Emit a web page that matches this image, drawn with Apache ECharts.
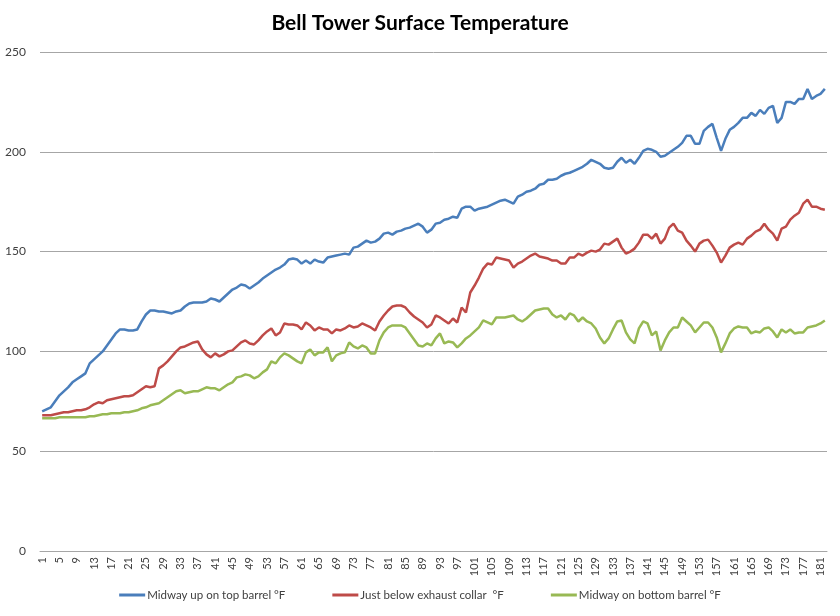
<!DOCTYPE html>
<html>
<head>
<meta charset="utf-8">
<script src="https://cdn.jsdelivr.net/npm/echarts@6/dist/echarts.min.js"></script>
<style>html,body{margin:0;padding:0;background:#fff;}#c{width:840px;height:616px;}</style>
</head>
<body>
<div id="c"></div>
<script>
const titleText = 'Bell Tower Surface Temperature';
const seriesNames = ['Midway up on top barrel °F', 'Just below exhaust collar  °F', 'Midway on bottom barrel °F'];
const categories = [];
for (let i = 1; i <= 182; i++) categories.push(String(i));
const yTicks = [0, 50, 100, 150, 200, 250];

const topBarrel = [70,71,72,75,78,80,82,84.5,86,87.5,89,94,96,98,100,103,106,109,111,111,110.5,110.5,111,115,118.5,120.5,120.5,120,120,119.5,119,120,120.5,122.5,124,124.5,124.5,124.5,125,126.5,126,125,127,129,131,132,133.5,133,131.5,133,134.5,136.5,138,139.5,141,142,143.5,146,146.5,146,144,145.5,144,146,145,144.5,147,147.5,148,148.5,149,148.5,152,152.5,154,155.5,154.5,155,156.5,159,159.5,158.5,160,160.5,161.5,162,163,164,162.5,159.5,161,164,164.5,166,166.5,167.5,167,171.5,172.5,172.5,170.5,171.5,172,172.5,173.5,174.5,175.5,176,175,174,177.5,178.5,180,180.5,181.5,183.5,184,186,186,186.5,188,189,189.5,190.5,191.5,192.5,194,196,195,194,192,191.5,192,195,197,194.5,196,194,197,200.5,201.5,201,200,197.5,198,199.5,201,202.5,204.5,208,208,204,204,210.5,212.5,214,207,200.5,206.5,211,212.5,214.5,217,217,219.5,218,221,219,222,223,214.5,217,225,225,224,226.5,226.5,231.5,226.5,228,229,231.5];
const exhaustCollar = [68,68,68,68.5,69,69.5,69.5,70,70.5,70.5,71,72,73.5,74.5,74,75.5,76,76.5,77,77.5,77.5,78,79.5,81,82.5,82,82.5,91.5,93,95,97.5,100,102,102.5,103.5,104.5,105,101,98.5,97,99,97.5,98.5,100,100.5,102.5,104.5,105.5,104,103.5,105.5,108,110,111.5,108,109.5,114,113.5,113.5,113,111,114.5,113,110.5,112,111,111,109,111,110.5,111.5,113,112,112.5,114,113,112,110.5,115,118,120.5,122.5,123,123,122,119.5,117.5,116,114.5,112,113.5,118,117,115.5,114,116.5,114.5,122,119.5,129.5,133,137,141.5,144,143.5,147,146.5,146,145.5,142,144,145,146.5,148,149,147.5,147,146.5,145.5,145.5,144,144,147,147,149,148,149.5,150.5,150,151,154,153.5,155,156.5,152,149,150,151.5,154.5,158.5,158.5,156.5,159,154,156.5,162,164,160.5,159.5,155.5,153,150,154,155.5,156,153,149.5,144.5,148,152,153.5,154.5,153.5,156.5,158,160,161,164,161,159,155.5,161.5,162.5,166,168,169.5,174,176,172.5,172.5,171.5,171];
const bottomBarrel = [66.5,66.5,66.5,66.5,67,67,67,67,67,67,67,67.5,67.5,68,68.5,68.5,69,69,69,69.5,69.5,70,70.5,71.5,72,73,73.5,74,75.5,77,78.5,80,80.5,79,79.5,80,80,81,82,81.5,81.5,80.5,82,83.5,84.5,87,87.5,88.5,88,86.5,87.5,89.5,91,95,94,97,99,98,96.5,95,94,99.5,101,98,99.5,99.5,102,95,98,99,99.5,104.5,102.5,101.5,103,102,99,99,105.5,109.5,112,113,113,113,112,109,106,103,102.5,104,103,106.5,109,104,105,104.5,102,104,106.5,108,110,112,115.5,114.5,113.5,117,117,117,117.5,118,116,115,116.5,118.5,120.5,121,121.5,121.5,118.5,117,118,116,119,118,115,117,115,114,111.5,107,104,106.5,111,115,115.5,109.5,106,104,111.5,115,114,108,110,100.5,105.5,109.5,112,112,117,115,113,109.5,112,114.5,114.5,112,107,99.5,104,109,111.5,112.5,112,112,109,110,109.5,111.5,112,110,107,111,109.5,111,109,109.5,109.5,112,112.5,113,114,115.5];

const colors = ['#4A7EBB', '#BE4B48', '#98B954'];
const FONT = 'Lato, "Liberation Sans", sans-serif';

const chart = echarts.init(document.getElementById('c'), null, {renderer: 'canvas'});
chart.setOption({
  backgroundColor: '#ffffff',
  animation: false,
  title: {
    text: titleText,
    left: 'center',
    top: 8,
    textStyle: {fontFamily: FONT, fontSize: 21, fontWeight: 'bold', color: '#000'}
  },
  legend: {
    data: seriesNames,
    top: 584,
    left: 'center',
    itemGap: 47,
    itemWidth: 26,
    itemHeight: 3,
    icon: 'rect',
    textStyle: {fontFamily: FONT, fontSize: 11.5, color: '#404040', padding: [0, 0, 0, -3]}
  },
  grid: {left: 40, right: 13, top: 52, bottom: 65, containLabel: false},
  xAxis: {
    type: 'category',
    data: categories,
    boundaryGap: true,
    axisLine: {show: true, lineStyle: {color: '#a6a6a6', width: 1}},
    axisTick: {show: false},
    axisLabel: {interval: 3, rotate: 90, fontFamily: FONT, fontSize: 11, color: '#404040', margin: 6}
  },
  yAxis: {
    type: 'value',
    min: 0,
    max: 250,
    interval: 50,
    axisLine: {show: false},
    axisTick: {show: false},
    splitLine: {lineStyle: {color: '#a6a6a6', width: 1}},
    axisLabel: {fontFamily: FONT, fontSize: 12, color: '#404040', margin: 14}
  },
  series: [
    {name: seriesNames[0], type: 'line', data: topBarrel, symbol: 'none', lineStyle: {width: 2.5, color: colors[0]}, itemStyle: {color: colors[0]}},
    {name: seriesNames[1], type: 'line', data: exhaustCollar, symbol: 'none', lineStyle: {width: 2.5, color: colors[1]}, itemStyle: {color: colors[1]}},
    {name: seriesNames[2], type: 'line', data: bottomBarrel, symbol: 'none', lineStyle: {width: 2.5, color: colors[2]}, itemStyle: {color: colors[2]}}
  ]
});
</script>
</body>
</html>
